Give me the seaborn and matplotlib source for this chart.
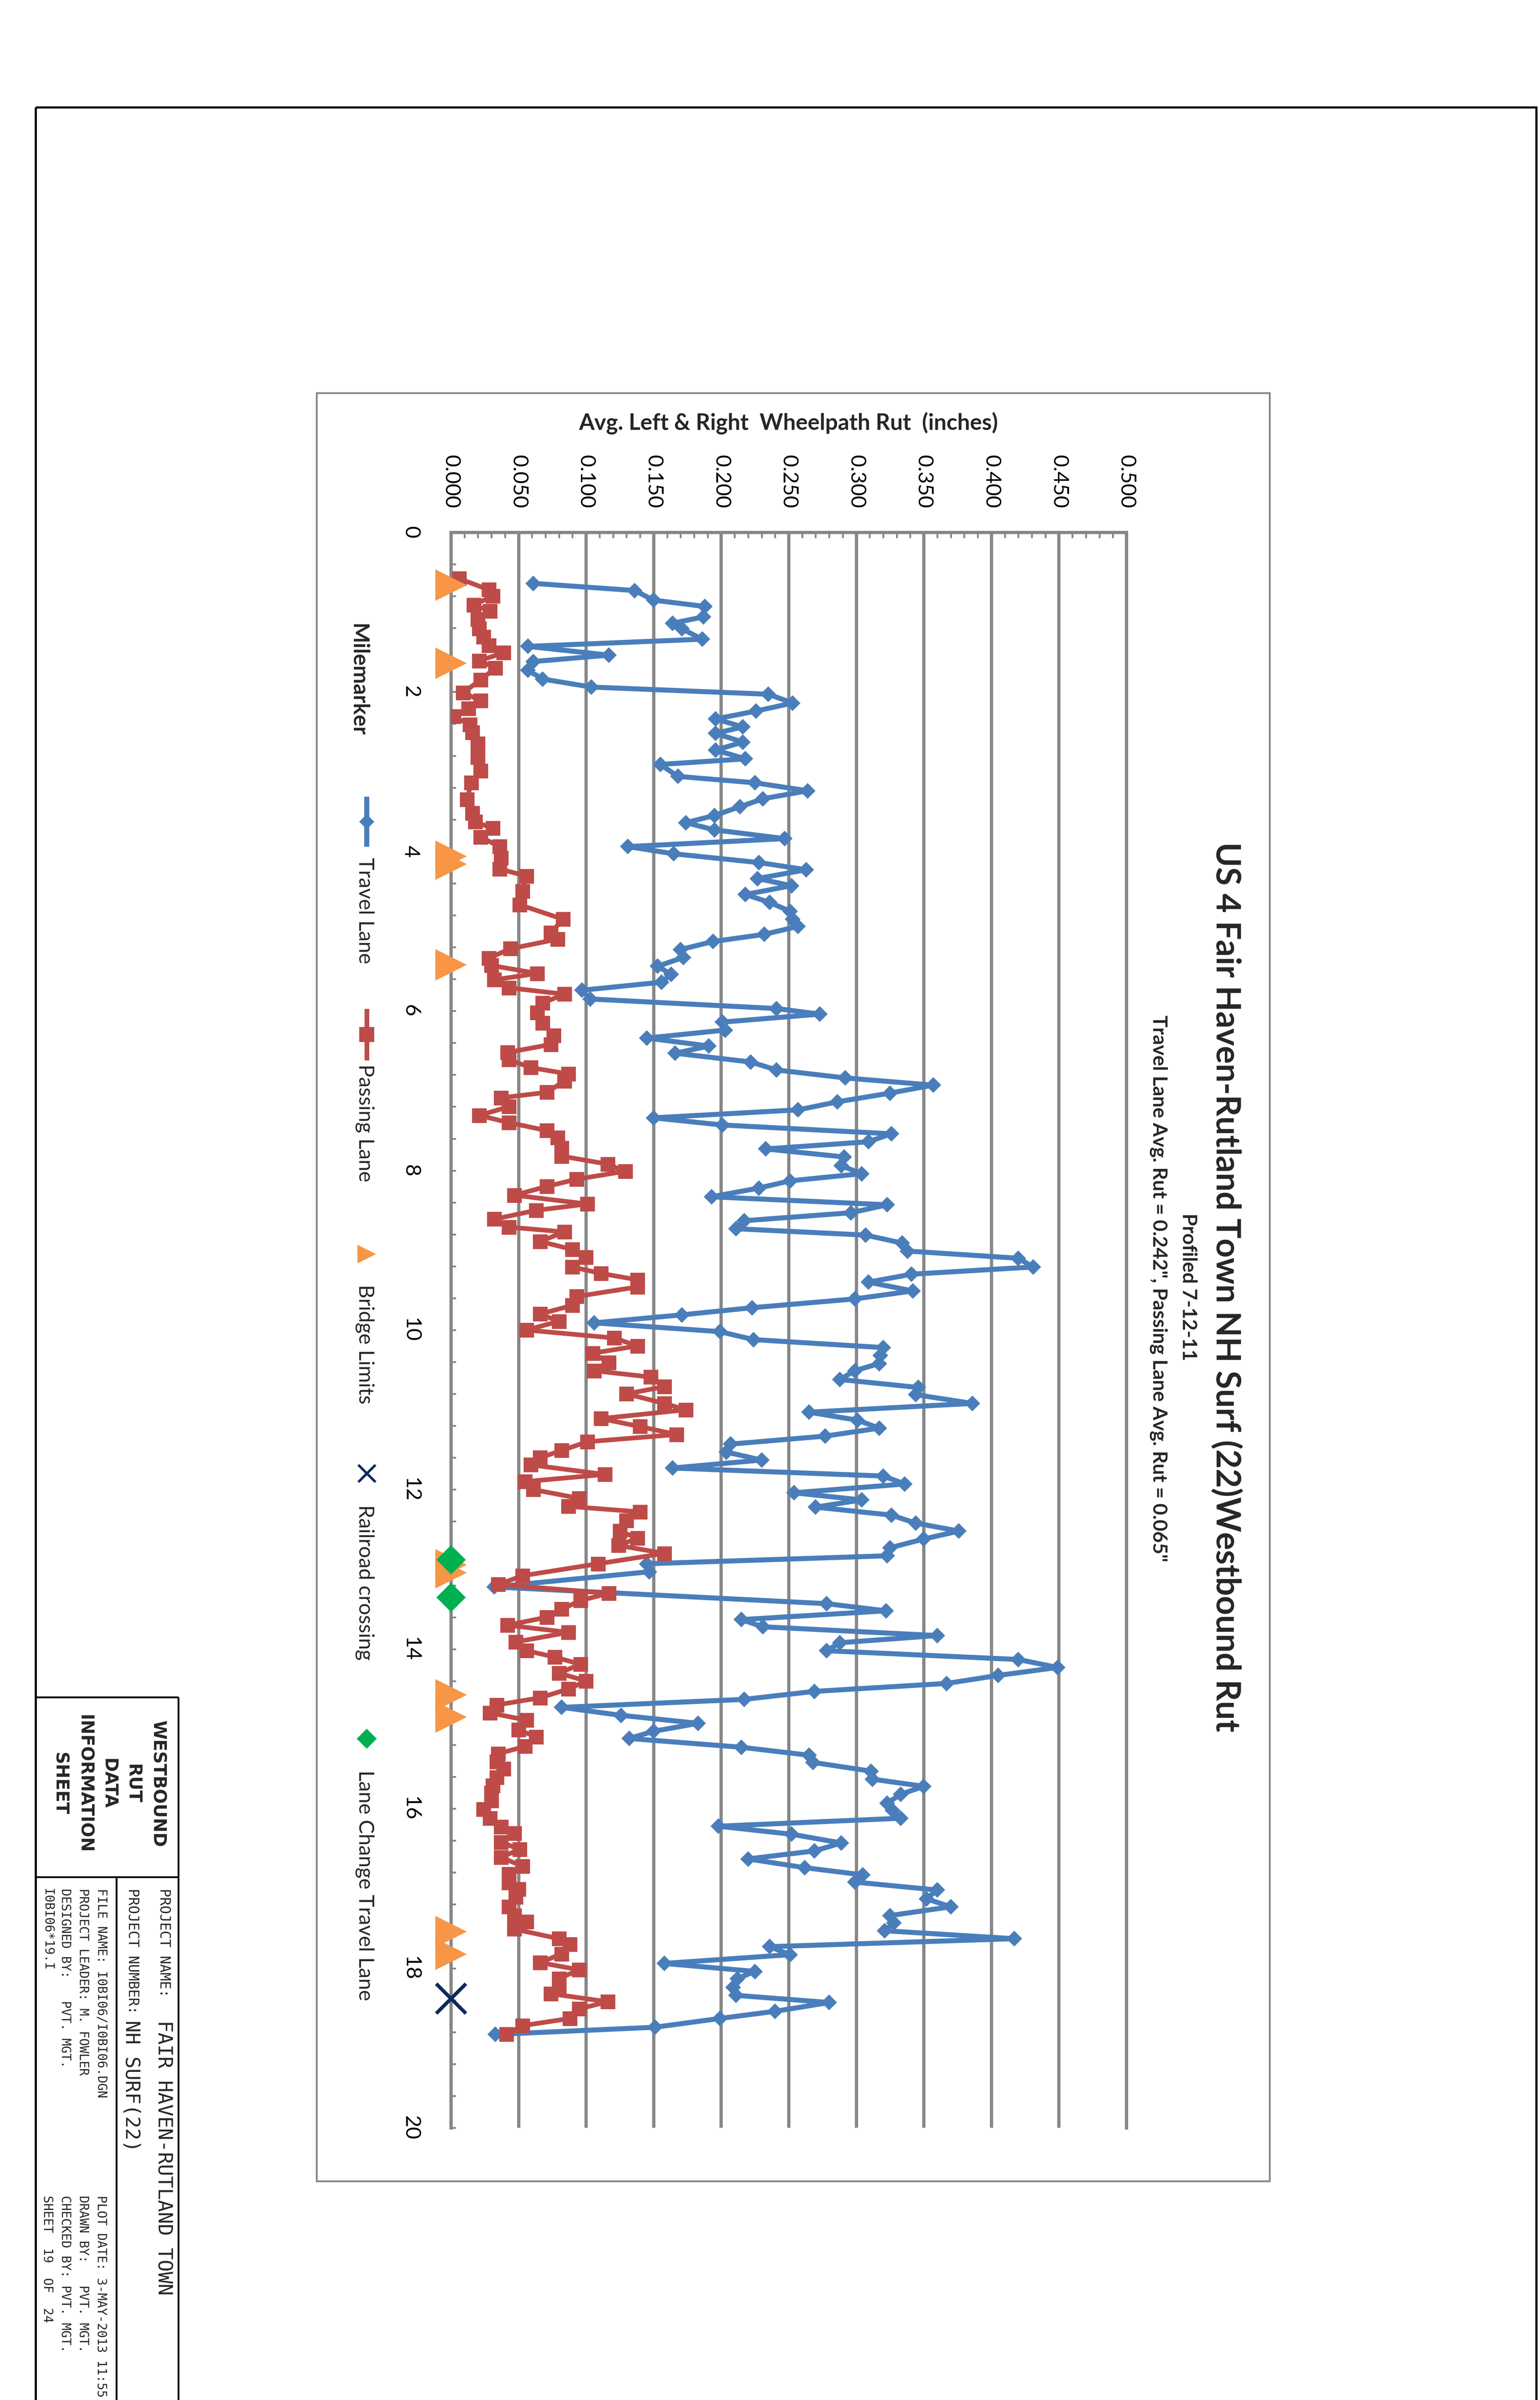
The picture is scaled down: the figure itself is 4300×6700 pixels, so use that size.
import numpy as np
import pandas as pd
import matplotlib
matplotlib.use("Agg")
import matplotlib.pyplot as plt
import seaborn as sns
from matplotlib.patches import Rectangle
from matplotlib.ticker import FixedLocator, MultipleLocator

# ---------------- data ----------------
travel_mile = [0.64, 0.73, 0.85, 0.93, 1.06, 1.14, 1.21, 1.34, 1.43, 1.54, 1.62, 1.73, 1.84, 1.94,
               2.03, 2.14, 2.24, 2.34, 2.44, 2.52, 2.63, 2.73, 2.84, 2.91, 3.06, 3.14, 3.24, 3.34,
               3.44, 3.55, 3.64, 3.73, 3.84, 3.94, 4.03, 4.14, 4.23, 4.34, 4.43, 4.54, 4.64, 4.75,
               4.85, 4.94, 5.04, 5.13, 5.23, 5.33, 5.44, 5.54, 5.64, 5.74, 5.85, 5.97, 6.04, 6.14,
               6.24, 6.34, 6.44, 6.53, 6.64, 6.74, 6.84, 6.93, 7.03, 7.14, 7.24, 7.34, 7.43, 7.54,
               7.64, 7.73, 7.83, 7.94, 8.04, 8.13, 8.22, 8.33, 8.43, 8.53, 8.63, 8.73, 8.81, 8.91,
               9.01, 9.10, 9.21, 9.30, 9.40, 9.51, 9.61, 9.72, 9.81, 9.91, 10.02, 10.12, 10.22,
               10.32, 10.42, 10.51, 10.62, 10.72, 10.81, 10.92, 11.03, 11.13, 11.23, 11.33, 11.43,
               11.53, 11.63, 11.73, 11.83, 11.93, 12.04, 12.13, 12.22, 12.32, 12.42, 12.52, 12.62,
               12.73, 12.83, 12.93, 13.03, 13.22, 13.43, 13.52, 13.63, 13.72, 13.83, 13.92, 14.02,
               14.13, 14.23, 14.33, 14.43, 14.53, 14.63, 14.73, 14.83, 14.93, 15.03, 15.12, 15.23,
               15.33, 15.42, 15.53, 15.63, 15.72, 15.82, 15.93, 16.02, 16.12, 16.22, 16.32, 16.43,
               16.53, 16.63, 16.74, 16.83, 16.92, 17.02, 17.13, 17.23, 17.34, 17.43, 17.53, 17.63,
               17.73, 17.83, 17.94, 18.04, 18.13, 18.24, 18.34, 18.43, 18.54, 18.63, 18.74, 18.83]
travel_rut = [0.061, 0.136, 0.150, 0.188, 0.187, 0.164, 0.171, 0.186, 0.057, 0.117, 0.061, 0.057, 0.068, 0.104,
              0.235, 0.253, 0.226, 0.196, 0.216, 0.196, 0.216, 0.196, 0.218, 0.155, 0.168, 0.225, 0.264, 0.231,
              0.214, 0.195, 0.174, 0.195, 0.247, 0.131, 0.165, 0.228, 0.263, 0.227, 0.252, 0.218, 0.236, 0.251,
              0.253, 0.257, 0.232, 0.194, 0.170, 0.172, 0.153, 0.163, 0.156, 0.097, 0.103, 0.241, 0.273, 0.201,
              0.203, 0.145, 0.191, 0.166, 0.222, 0.241, 0.292, 0.357, 0.325, 0.286, 0.257, 0.150, 0.201, 0.326,
              0.309, 0.233, 0.291, 0.289, 0.304, 0.251, 0.228, 0.193, 0.323, 0.296, 0.217, 0.211, 0.307, 0.334,
              0.338, 0.420, 0.431, 0.341, 0.309, 0.342, 0.299, 0.223, 0.171, 0.106, 0.199, 0.224, 0.320,
              0.318, 0.317, 0.299, 0.288, 0.346, 0.344, 0.386, 0.265, 0.301, 0.317, 0.277, 0.207,
              0.204, 0.230, 0.164, 0.320, 0.336, 0.254, 0.304, 0.270, 0.326, 0.344, 0.376, 0.350,
              0.325, 0.323, 0.145, 0.147, 0.032, 0.278, 0.322, 0.215, 0.231, 0.360, 0.288, 0.278,
              0.420, 0.449, 0.405, 0.367, 0.269, 0.217, 0.082, 0.126, 0.183, 0.150, 0.132, 0.215,
              0.265, 0.268, 0.311, 0.312, 0.350, 0.333, 0.323, 0.327, 0.333, 0.198, 0.252, 0.289,
              0.269, 0.220, 0.262, 0.305, 0.299, 0.360, 0.352, 0.370, 0.325, 0.328, 0.321, 0.417,
              0.236, 0.251, 0.158, 0.225, 0.212, 0.209, 0.211, 0.280, 0.240, 0.199, 0.151, 0.033]

passing_mile = [0.58, 0.72, 0.80, 0.91, 0.99, 1.09, 1.21, 1.31, 1.42, 1.51, 1.61, 1.70, 1.85, 2.01,
                2.11, 2.21, 2.31, 2.41, 2.51, 2.65, 2.82, 2.99, 3.14, 3.35, 3.52, 3.63, 3.71, 3.82,
                3.94, 4.08, 4.22, 4.31, 4.50, 4.67, 4.85, 5.02, 5.10, 5.22, 5.34, 5.43, 5.53, 5.61,
                5.71, 5.79, 5.90, 6.02, 6.15, 6.31, 6.42, 6.52, 6.61, 6.71, 6.79, 6.88, 7.02, 7.09,
                7.20, 7.31, 7.40, 7.50, 7.59, 7.72, 7.82, 7.92, 8.01, 8.11, 8.20, 8.31, 8.42, 8.50,
                8.61, 8.71, 8.77, 8.89, 8.99, 9.09, 9.21, 9.29, 9.37, 9.46, 9.58, 9.69, 9.80, 9.89,
                10.00, 10.10, 10.20, 10.29, 10.41, 10.51, 10.59, 10.71, 10.80, 10.92, 11.00, 11.11,
                11.21, 11.31, 11.40, 11.51, 11.60, 11.69, 11.81, 11.90, 12.00, 12.11, 12.21, 12.28,
                12.39, 12.52, 12.61, 12.70, 12.80, 12.93, 13.08, 13.19, 13.30, 13.39, 13.50, 13.60,
                13.70, 13.79, 13.91, 14.02, 14.10, 14.19, 14.30, 14.40, 14.50, 14.61, 14.70, 14.80,
                14.89, 15.01, 15.10, 15.22, 15.31, 15.41, 15.50, 15.61, 15.71, 15.80, 15.90, 16.01,
                16.12, 16.23, 16.31, 16.42, 16.51, 16.61, 16.72, 16.82, 16.93, 17.01, 17.11, 17.23,
                17.34, 17.42, 17.51, 17.63, 17.70, 17.82, 17.93, 18.02, 18.13, 18.23, 18.32, 18.42,
                18.51, 18.63, 18.72, 18.83]
passing_rut = [0.006, 0.028, 0.031, 0.017, 0.029, 0.020, 0.021, 0.024, 0.028, 0.039, 0.021, 0.033, 0.022, 0.009,
               0.022, 0.013, 0.002, 0.014, 0.016, 0.020, 0.020, 0.022, 0.015, 0.012, 0.016, 0.018, 0.031, 0.022,
               0.036, 0.037, 0.036, 0.056, 0.053, 0.051, 0.083, 0.074, 0.079, 0.044, 0.028, 0.030, 0.064, 0.032,
               0.043, 0.084, 0.068, 0.064, 0.068, 0.076, 0.074, 0.042, 0.043, 0.059, 0.087, 0.084, 0.071, 0.037,
               0.043, 0.021, 0.043, 0.071, 0.079, 0.082, 0.082, 0.116, 0.129, 0.093, 0.071, 0.047, 0.101, 0.063,
               0.032, 0.043, 0.084, 0.066, 0.090, 0.100, 0.090, 0.111, 0.138, 0.138, 0.093, 0.090, 0.066, 0.080,
               0.056, 0.121, 0.138, 0.105, 0.117, 0.106, 0.148, 0.158, 0.130, 0.158, 0.174, 0.111,
               0.140, 0.167, 0.101, 0.082, 0.066, 0.059, 0.114, 0.055, 0.061, 0.095, 0.087, 0.140,
               0.130, 0.125, 0.138, 0.124, 0.158, 0.109, 0.053, 0.035, 0.117, 0.096, 0.082, 0.071,
               0.042, 0.087, 0.048, 0.056, 0.077, 0.096, 0.080, 0.100, 0.087, 0.066, 0.034, 0.029,
               0.056, 0.050, 0.063, 0.055, 0.035, 0.034, 0.039, 0.034, 0.031, 0.030, 0.030, 0.024,
               0.029, 0.037, 0.047, 0.037, 0.051, 0.037, 0.053, 0.043, 0.043, 0.050, 0.048, 0.043,
               0.047, 0.056, 0.047, 0.080, 0.088, 0.082, 0.066, 0.095, 0.080, 0.080, 0.074, 0.116,
               0.095, 0.088, 0.053, 0.041]

bridge_mile = [0.66, 1.64, 4.06, 4.16, 5.42, 12.94, 13.04, 14.57, 14.85, 17.54, 17.82]
railroad_mile = [18.38]
lane_change_mile = [12.88, 13.35]

rut_ticks = [0.000, 0.050, 0.100, 0.150, 0.200, 0.250, 0.300, 0.350, 0.400, 0.450, 0.500]
rut_tick_labels = ["0.000", "0.050", "0.100", "0.150", "0.200", "0.250",
                   "0.300", "0.350", "0.400", "0.450", "0.500"]
mile_ticks = [0, 2, 4, 6, 8, 10, 12, 14, 16, 18, 20]
mile_tick_labels = ["0", "2", "4", "6", "8", "10", "12", "14", "16", "18", "20"]

legend_labels = ["Travel Lane", "Passing Lane", "Bridge Limits", "Railroad crossing",
                 "Lane Change Travel Lane"]

title = "US 4 Fair Haven-Rutland Town NH Surf (22)Westbound Rut"
subtitle1 = "Profiled 7-12-11"
subtitle2 = 'Travel Lane Avg. Rut = 0.242", Passing Lane Avg. Rut = 0.065"'
rut_label = "Avg. Left & Right  Wheelpath Rut  (inches)"
mile_label = "Milemarker"

# ---------------- style ----------------
W, H, DPI = 4300, 6700, 100


def pt(px):
    return px * 72.0 / DPI


BLUE = "#4A7EBB"
RED = "#BE4B48"
ORANGE = "#F79646"
GREEN = "#00B050"
NAVY = "#0E2A5E"
GRID = "#878787"

sns.set_style("white")
plt.rcParams["font.family"] = ["Lato", "DejaVu Sans"]

fig = plt.figure(figsize=(W / DPI, H / DPI), dpi=DPI)
fig.patch.set_facecolor("white")

# overlay for page furniture (pixel coordinates, y downward)
ov = fig.add_axes([0, 0, 1, 1])
ov.set_xlim(0, W)
ov.set_ylim(H, 0)
ov.axis("off")

# page frame
ov.add_patch(Rectangle((100, 300), 4190, 6500, fill=False, ec="black", lw=pt(6)))
# title block lines
for (xa, ya, xb, yb) in [(100, 4738, 498, 4738), (498, 4738, 498, 6720),
                         (100, 5240, 498, 5240), (325, 5240, 325, 6720)]:
    ov.plot([xa, xb], [ya, yb], color="black", lw=pt(5), solid_capstyle="butt")
# chart area border
ov.add_patch(Rectangle((884, 1097), 2661, 4992, fill=False, ec=GRID, lw=pt(5)))


def vtext(x, y, s, size, ha="left", **kw):
    ov.text(x, y, s, rotation=-90, rotation_mode="anchor", ha=ha, va="baseline",
            fontsize=size, **kw)


# ---------------- main axes ----------------
X0, X1 = 1259, 3145
Y0, Y1 = 1486, 5940
ax = fig.add_axes([X0 / W, 1 - Y1 / H, (X1 - X0) / W, (Y1 - Y0) / H])
ax.set_facecolor("none")

travel = pd.DataFrame({"Milemarker": travel_mile, "Rut": travel_rut})
passing = pd.DataFrame({"Milemarker": passing_mile, "Rut": passing_rut})
bridge = pd.DataFrame({"Milemarker": bridge_mile, "Rut": [0.0] * len(bridge_mile)})
railroad = pd.DataFrame({"Milemarker": railroad_mile, "Rut": [0.0] * len(railroad_mile)})
lanechg = pd.DataFrame({"Milemarker": lane_change_mile, "Rut": [0.0] * len(lane_change_mile)})

sns.lineplot(data=travel, x="Rut", y="Milemarker", sort=False, estimator=None, orient="y",
             color=BLUE, linewidth=pt(14), marker="D", markersize=pt(43) / 1.414,
             markeredgewidth=0, ax=ax, zorder=3)
sns.lineplot(data=passing, x="Rut", y="Milemarker", sort=False, estimator=None, orient="y",
             color=RED, linewidth=pt(13), marker="s", markersize=pt(41),
             markeredgewidth=0, ax=ax, zorder=4)
sns.scatterplot(data=bridge, x="Rut", y="Milemarker", marker=">", s=pt(88) ** 2,
                color=ORANGE, linewidth=0, ax=ax, zorder=5, clip_on=False)
sns.scatterplot(data=railroad, x="Rut", y="Milemarker", marker="x", s=pt(83) ** 2,
                color=NAVY, linewidth=pt(10), ax=ax, zorder=6, clip_on=False)
sns.scatterplot(data=lanechg, x="Rut", y="Milemarker", marker="D", s=(pt(82) / 1.414) ** 2,
                color=GREEN, linewidth=0, ax=ax, zorder=7, clip_on=False)

ax.set(xlabel="", ylabel="")
ax.set_xlim(0, 0.5)
ax.set_ylim(20, 0)

ax.xaxis.tick_top()
ax.set_xticks(rut_ticks)
ax.set_xticklabels(rut_tick_labels)
ax.xaxis.set_minor_locator(MultipleLocator(0.01))
ax.set_yticks(mile_ticks)
ax.set_yticklabels(mile_tick_labels)
ax.yaxis.set_minor_locator(MultipleLocator(0.4))

ax.tick_params(axis="x", which="both", direction="in", top=True, bottom=False,
               labeltop=True, labelbottom=False, color=GRID, width=pt(5),
               labelsize=42, pad=48, labelcolor="black")
ax.tick_params(axis="x", which="major", length=0)
ax.tick_params(axis="x", which="minor", length=pt(16))
ax.tick_params(axis="y", which="both", direction="in", left=True, right=False,
               color=GRID, width=pt(5), length=pt(14), labelsize=42, pad=62,
               labelcolor="black")
for lab in ax.get_xticklabels():
    lab.set_rotation(-90)
    lab.set_ha("center")
    lab.set_va("bottom")
for lab in ax.get_yticklabels():
    lab.set_rotation(-90)
    lab.set_ha("right")
    lab.set_va("center")

ax.grid(axis="x", which="major", color=GRID, lw=pt(9))
ax.grid(axis="y", visible=False)
ax.set_axisbelow(True)
for s in ["left", "top", "right"]:
    ax.spines[s].set_visible(True)
    ax.spines[s].set_color(GRID)
    ax.spines[s].set_linewidth(pt(9))
ax.spines["bottom"].set_visible(False)

# ---------------- chart texts ----------------
vtext(3396, 3593, title, 67, ha="center", fontweight="bold")
vtext(3302, 3593, subtitle1, 40, ha="center", fontweight="bold")
vtext(3219, 3597, subtitle2, 40, ha="center", fontweight="bold")
ov.text(2202, 1200, rut_label, ha="center", va="baseline", fontsize=45, fontweight="bold")
vtext(982, 1741, mile_label, 44, fontweight="bold")

# ---------------- legend (drawn rotated) ----------------
LX = 1024
leg_marker_y = [2294, 2888, 3501, 4113, 4854]
leg_text_y = [2394, 2971, 3586, 4201, 4942]
ov.plot([LX, LX], [leg_marker_y[0] - 70, leg_marker_y[0] + 70], color=BLUE, lw=pt(14),
        solid_capstyle="butt")
ov.plot([LX], [leg_marker_y[0]], marker="D", ms=pt(42) / 1.414, color=BLUE, mew=0)
ov.plot([LX, LX], [leg_marker_y[1] - 72, leg_marker_y[1] + 72], color=RED, lw=pt(13),
        solid_capstyle="butt")
ov.plot([LX], [leg_marker_y[1]], marker="s", ms=pt(42), color=RED, mew=0)
ov.plot([LX], [leg_marker_y[2]], marker=">", ms=pt(52), color=ORANGE, mew=0)
ov.plot([LX], [leg_marker_y[3]], marker="x", ms=pt(48), color=NAVY, mew=pt(7))
ov.plot([LX], [leg_marker_y[4]], marker="D", ms=pt(55) / 1.414, color=GREEN, mew=0)
for ty, lab in zip(leg_text_y, legend_labels):
    vtext(1002, ty, lab, 42)

# ---------------- title block ----------------
for bx, word in zip([427, 357, 290, 222, 153], ["WESTBOUND", "RUT", "DATA", "INFORMATION", "SHEET"]):
    vtext(bx, 4980, word, 35, ha="center", fontweight="bold", family="DejaVu Sans")

mono = dict(family="DejaVu Sans Mono")
vtext(447, 5272, "PROJECT NAME:", 28, **mono)
vtext(442, 5640, "FAIR HAVEN-RUTLAND TOWN", 40, **mono)
vtext(358, 5272, "PROJECT NUMBER:", 28, **mono)
vtext(352, 5640, "NH SURF(22)", 40, **mono)
vtext(273, 5272, "FILE NAME: I0BI06/I0BI06.DGN", 25, **mono)
vtext(273, 6129, "PLOT DATE: 3-MAY-2013 11:55", 25, **mono)
vtext(223, 5272, "PROJECT LEADER: M. FOWLER", 25, **mono)
vtext(223, 6129, "DRAWN BY:   PVT. MGT.", 25, **mono)
vtext(173, 5272, "DESIGNED BY:   PVT. MGT.", 25, **mono)
vtext(173, 6129, "CHECKED BY: PVT. MGT.", 25, **mono)
vtext(123, 5272, "I0BI06*19.I", 25, **mono)
vtext(123, 6129, "SHEET  19  OF  24", 25, **mono)

fig.savefig("out.png", dpi=DPI, facecolor="white")
